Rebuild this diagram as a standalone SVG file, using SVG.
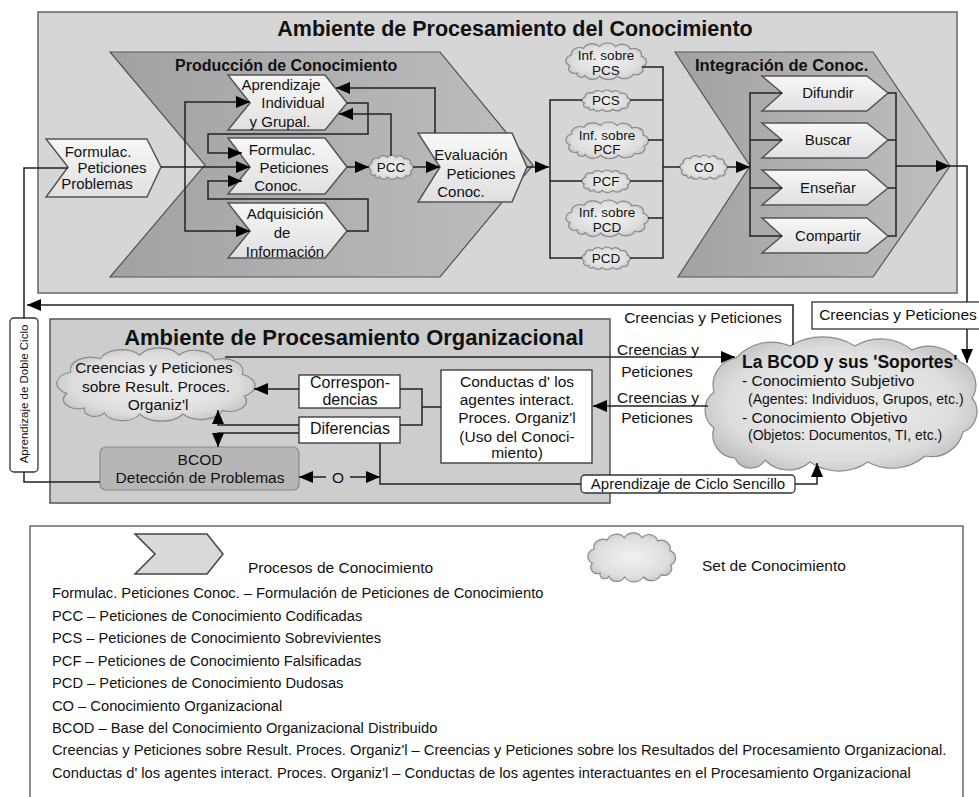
<svg xmlns="http://www.w3.org/2000/svg" width="979" height="797" viewBox="0 0 979 797">
<style>
.t{font-family:"Liberation Sans",Arial,sans-serif;fill:#111}
.m{text-anchor:middle}
.title{font-size:21.5px;font-weight:bold}
.sub{font-size:16px;font-weight:bold}
.ch{font-size:15px;text-anchor:middle}
.cl{font-size:13.5px;text-anchor:middle}
.lo{font-size:15.5px}
.lg{font-size:14.7px}
.conn{fill:none;stroke:#222;stroke-width:1.5}
.arr{marker-end:url(#ah)}
.big{fill:url(#gBig);stroke:#555;stroke-width:1.2}
.small{fill:url(#gSmall);stroke:#555;stroke-width:1.5}
.cloud{fill:url(#gCloud);stroke:#8a8a8a;stroke-width:1.2}
.wbox{fill:#fff;stroke:#333;stroke-width:1.3}
</style>
<defs>
<linearGradient id="gBig" x1="0" y1="0" x2="1" y2="0"><stop offset="0" stop-color="#a2a2a2"/><stop offset="1" stop-color="#bebebe"/></linearGradient>
<linearGradient id="gSmall" x1="0" y1="0" x2="0" y2="1"><stop offset="0" stop-color="#f7f7f7"/><stop offset="1" stop-color="#e0e0e0"/></linearGradient>
<radialGradient id="gCloud" cx="0.5" cy="0.5" r="0.6"><stop offset="0" stop-color="#f2f2f2"/><stop offset="0.7" stop-color="#dddddd"/><stop offset="1" stop-color="#bababa"/></radialGradient>
<path id="cloudP" vector-effect="non-scaling-stroke" d="M14,50 A7.7,7.7 0 0 1 5,38 A9.8,9.8 0 0 1 7,20 A10.2,10.2 0 0 1 22,9 A11.5,11.5 0 0 1 42,6 A11.3,11.3 0 0 1 62,6 A10.1,10.1 0 0 1 80,10 A10.1,10.1 0 0 1 94,22 A9.75,9.75 0 0 1 95,40 A8.5,8.5 0 0 1 84,52 A11.5,11.5 0 0 1 64,55 A13.1,13.1 0 0 1 42,55 A9.75,9.75 0 0 1 24,54 A5.4,5.4 0 0 1 14,50 Z"/>
<marker id="ah" viewBox="0 0 14 12" refX="14" refY="6" markerWidth="14" markerHeight="12" markerUnits="userSpaceOnUse" orient="auto"><path d="M0,0 L14,6 L0,12 Z" fill="#000"/></marker>
</defs>
<rect x="0" y="0" width="979" height="797" fill="#fff"/>

<!-- Containers -->
<g id="env-conocimiento">
<rect x="38" y="12" width="919" height="281" fill="#d6d6d6" stroke="#666" stroke-width="1.5"/>
<text class="t title m" x="515" y="36">Ambiente de Procesamiento del Conocimiento</text>
</g>
<g id="produccion">
<path class="big" d="M110,52 L440,52 L533,165 L440,277 L110,277 L205,165 Z"/>
<text class="t sub" x="175" y="71">Producción de Conocimiento</text>
</g>
<g id="integracion">
<path class="big" d="M675,52 L873,52 L950,166 L873,277 L678,277 L750,166 Z"/>
<text class="t sub" x="695" y="71" style="font-size:16.5px">Integración de Conoc.</text>
</g>
<g id="env-organizacional">
<rect x="50" y="319" width="560" height="184" fill="#cdcdcd" stroke="#555" stroke-width="1.5"/>
<text class="t m" x="354" y="345" style="font-size:22px;font-weight:bold">Ambiente de Procesamiento Organizacional</text>
</g>

<!-- Nodes -->
<g id="n-formulac-problemas">
<path class="small" d="M46,139 L147,139 L161,167 L147,197 L46,197 L68,167 Z"/>
<text class="t ch" x="98" y="157">Formulac.</text>
<text class="t ch" x="112" y="173">Peticiones</text>
<text class="t ch" x="97" y="189">Problemas</text>
</g>
<g id="n-aprendizaje">
<path class="small" d="M228,75 L325,75 L347,103 L325,130 L228,130 L250,103 Z"/>
<text class="t ch" x="281" y="90">Aprendizaje</text>
<text class="t ch" x="293" y="108">Individual</text>
<text class="t ch" x="280" y="127">y Grupal.</text>
</g>
<g id="n-formulac-conoc">
<path class="small" d="M228,138 L325,138 L347,167 L325,194 L228,194 L250,167 Z"/>
<text class="t ch" x="282" y="155">Formulac.</text>
<text class="t ch" x="294" y="173">Peticiones</text>
<text class="t ch" x="278" y="191">Conoc.</text>
</g>
<g id="n-adquisicion">
<path class="small" d="M228,203 L325,203 L347,231 L325,258 L228,258 L250,231 Z"/>
<text class="t ch" x="285" y="219">Adquisición</text>
<text class="t ch" x="282" y="238">de</text>
<text class="t ch" x="285" y="257">Información</text>
</g>
<g id="n-pcc">
<use href="#cloudP" class="cloud" transform="translate(369,155) scale(0.44,0.4)"/>
<text class="t cl" x="391" y="172">PCC</text>
</g>
<g id="n-evaluacion">
<path class="small" d="M418,133 L512,133 L527,167 L512,202 L418,202 L440,167 Z"/>
<text class="t ch" x="471" y="160">Evaluación</text>
<text class="t ch" x="481" y="179">Peticiones</text>
<text class="t ch" x="461" y="197">Conoc.</text>
</g>
<g id="n-inf-pcs">
<use href="#cloudP" class="cloud" transform="translate(566,43) scale(0.8,0.6)"/>
<text class="t cl" x="606" y="60">Inf. sobre</text>
<text class="t cl" x="606" y="75">PCS</text>
</g>
<g id="n-pcs">
<use href="#cloudP" class="cloud" transform="translate(582,90) scale(0.48,0.35)"/>
<text class="t cl" x="606" y="105">PCS</text>
</g>
<g id="n-inf-pcf">
<use href="#cloudP" class="cloud" transform="translate(566,122) scale(0.82,0.6)"/>
<text class="t cl" x="607" y="140">Inf. sobre</text>
<text class="t cl" x="607" y="154">PCF</text>
</g>
<g id="n-pcf">
<use href="#cloudP" class="cloud" transform="translate(582,170) scale(0.48,0.37)"/>
<text class="t cl" x="606" y="186">PCF</text>
</g>
<g id="n-inf-pcd">
<use href="#cloudP" class="cloud" transform="translate(566,200) scale(0.82,0.6)"/>
<text class="t cl" x="607" y="217">Inf. sobre</text>
<text class="t cl" x="607" y="232">PCD</text>
</g>
<g id="n-pcd">
<use href="#cloudP" class="cloud" transform="translate(582,247) scale(0.48,0.37)"/>
<text class="t cl" x="606" y="263">PCD</text>
</g>
<g id="n-co">
<use href="#cloudP" class="cloud" transform="translate(680,155) scale(0.47,0.4)"/>
<text class="t cl" x="704" y="172">CO</text>
</g>
<g id="n-difundir">
<path class="small" d="M762,76 H867 L888,93 L867,111 H762 L782,93 Z"/>
<text class="t ch" x="828" y="98">Difundir</text>
</g>
<g id="n-buscar">
<path class="small" d="M762,123 H867 L888,140 L867,158 H762 L782,140 Z"/>
<text class="t ch" x="828" y="145">Buscar</text>
</g>
<g id="n-ensenar">
<path class="small" d="M762,170 H867 L888,188 L867,205 H762 L782,188 Z"/>
<text class="t ch" x="828" y="193">Enseñar</text>
</g>
<g id="n-compartir">
<path class="small" d="M762,218 H867 L888,236 L867,253 H762 L782,236 Z"/>
<text class="t ch" x="828" y="241">Compartir</text>
</g>

<g id="n-doble-ciclo">
<rect x="10" y="318" width="28" height="154" rx="4" class="wbox"/>
<text class="t m" transform="translate(28,394) rotate(-90)" style="font-size:11.5px">Aprendizaje de Doble Ciclo</text>
</g>
<g id="n-creencias-result">
<use href="#cloudP" class="cloud" transform="translate(57,348) scale(1.97,1.2)"/>
<text class="t lo m" x="154" y="373">Creencias y Peticiones</text>
<text class="t lo m" x="156" y="392">sobre Result. Proces.</text>
<text class="t lo m" x="158" y="410">Organiz'l</text>
</g>
<g id="n-correspondencias">
<rect x="299" y="375" width="101" height="33" class="wbox"/>
<text class="t m" x="350" y="388" style="font-size:16px">Correspon-</text>
<text class="t m" x="350" y="405" style="font-size:16px">dencias</text>
</g>
<g id="n-diferencias">
<rect x="299" y="417" width="101" height="26" class="wbox"/>
<text class="t m" x="350" y="434" style="font-size:16px">Diferencias</text>
</g>
<g id="n-conductas">
<rect x="441" y="370" width="151" height="93" class="wbox"/>
<text class="t lo m" x="517" y="387">Conductas d' los</text>
<text class="t lo m" x="517" y="405">agentes interact.</text>
<text class="t lo m" x="517" y="423">Proces. Organiz'l</text>
<text class="t lo m" x="517" y="442">(Uso del Conoci-</text>
<text class="t lo m" x="517" y="458">miento)</text>
</g>
<g id="n-bcod-deteccion">
<rect x="100" y="447" width="199" height="43" rx="6" fill="#b6b6b6" stroke="#8a8a8a" stroke-width="1.2"/>
<text class="t lo m" x="200" y="465">BCOD</text>
<text class="t lo m" x="200" y="483">Detección de Problemas</text>
</g>
<g id="n-bcod-soportes">
<path class="cloud" d="M735,458 A23,23 0 0 1 714,428 A22.5,22.5 0 0 1 714,392 A27.3,27.3 0 0 1 736,358 A47,47 0 0 1 790,346 A63,63 0 0 1 855,346 A49.8,49.8 0 0 1 912,350 A38.5,38.5 0 0 1 960,362 A24.5,24.5 0 0 1 972,398 A21.7,21.7 0 0 1 963,432 A32.5,32.5 0 0 1 925,456 A50,50 0 0 1 868,462 A51,51 0 0 1 810,462 A32.6,32.6 0 0 1 765,460 A17,17 0 0 1 735,458 Z"/>
<text class="t" x="742" y="368" style="font-size:17.5px;font-weight:bold">La BCOD y sus 'Soportes'</text>
<text class="t lo" x="742" y="386">- Conocimiento Subjetivo</text>
<text class="t" x="748" y="404" style="font-size:14px">(Agentes: Individuos, Grupos, etc.)</text>
<text class="t lo" x="742" y="423">- Conocimiento Objetivo</text>
<text class="t" x="748" y="440" style="font-size:14px">(Objetos: Documentos, TI, etc.)</text>
</g>
<g id="n-creencias-box">
<rect x="812" y="302" width="172" height="27" class="wbox"/>
<text class="t lo m" x="898" y="320">Creencias y Peticiones</text>
</g>
<g id="n-ciclo-sencillo">
<rect x="581" y="475" width="214" height="18" rx="4" class="wbox"/>
<text class="t m" x="688" y="489" style="font-size:15px">Aprendizaje de Ciclo Sencillo</text>
</g>

<!-- Connectors -->
<g id="connectors">
<path class="conn" d="M100,482 H24 V472 M24,318 V168 H68"/>
<path class="conn arr" d="M161,167 H250"/>
<path class="conn arr" d="M185,167 V102 H250"/>
<path class="conn arr" d="M185,167 V231 H250"/>
<path class="conn arr" d="M347,103 H368 V134 H208 V153 H242"/>
<path class="conn arr" d="M347,231 H368 V199 H208 V181 H242"/>
<path class="conn arr" d="M435,133 V88 H336"/>
<path class="conn arr" d="M391,156 V114 H339"/>
<path class="conn arr" d="M347,167 H369"/>
<path class="conn arr" d="M413,167 H440"/>
<path class="conn arr" d="M527,167 H549"/>
<path class="conn" d="M582,100 H550 V258 H582 M550,181 H582"/>
<path class="conn" d="M642,67 H663 V258 H630 M630,100 H663 M648,140 H663 M630,181 H663 M648,218 H663 M663,167 H680"/>
<path class="conn arr" d="M727,167 H750"/>
<path class="conn" d="M782,93 H750 V236 H782 M750,140 H782 M750,188 H782"/>
<path class="conn" d="M888,93 H896 V236 H888 M888,140 H896 M888,188 H896"/>
<path class="conn arr" d="M896,166 H950"/>
<path class="conn" d="M950,166 H967 V302"/>
<path class="conn arr" d="M967,329 V363"/>
<path class="conn arr" d="M793,345 V305 H27"/>
<path class="conn arr" d="M225,357 H735"/>
<path class="conn arr" d="M708,406 H593"/>
<path class="conn" d="M441,407 H422 M400,389 H422 V425 H400"/>
<path class="conn arr" d="M299,389 H254"/>
<path class="conn arr" d="M299,425 H218 V410"/>
<path class="conn arr" d="M299,433 H218 V447"/>
<path class="conn" d="M380,443 V484 H581"/>
<path class="conn arr" d="M795,484 H817 V463"/>
<path class="conn arr" d="M326,477 H299"/>
<path class="conn arr" d="M350,477 H380"/>
<text class="t lo m" x="338" y="483">O</text>
<text class="t lo m" x="703" y="323">Creencias y Peticiones</text>
<text class="t lo m" x="658" y="355">Creencias y</text>
<text class="t lo m" x="657" y="377">Peticiones</text>
<text class="t lo m" x="658" y="403">Creencias y</text>
<text class="t lo m" x="657" y="423">Peticiones</text>
</g>

<!-- Legend -->
<g id="legend">
<rect x="30" y="526" width="933" height="280" fill="#fff" stroke="#555" stroke-width="1.3"/>
<path d="M135,534 H207 L223,554 L207,574 H135 L155,554 Z" fill="#d9d9d9" stroke="#444" stroke-width="1.5"/>
<text class="t" x="248" y="573" style="font-size:15.5px">Procesos de Conocimiento</text>
<use href="#cloudP" class="cloud" transform="translate(588,533) scale(0.87,0.8)"/>
<text class="t" x="702" y="571" style="font-size:15.5px">Set de Conocimiento</text>
<text class="t lg" x="52" y="598">Formulac. Peticiones Conoc. – Formulación de Peticiones de Conocimiento</text>
<text class="t lg" x="52" y="621">PCC – Peticiones de Conocimiento Codificadas</text>
<text class="t lg" x="52" y="643">PCS – Peticiones de Conocimiento Sobrevivientes</text>
<text class="t lg" x="52" y="666">PCF – Peticiones de Conocimiento Falsificadas</text>
<text class="t lg" x="52" y="688">PCD – Peticiones de Conocimiento Dudosas</text>
<text class="t lg" x="52" y="711">CO – Conocimiento Organizacional</text>
<text class="t lg" x="52" y="733">BCOD – Base del Conocimiento Organizacional Distribuido</text>
<text class="t lg" x="52" y="755">Creencias y Peticiones sobre Result. Proces. Organiz'l – Creencias y Peticiones sobre los Resultados del Procesamiento Organizacional.</text>
<text class="t lg" x="52" y="778">Conductas d' los agentes interact. Proces. Organiz'l – Conductas de los agentes interactuantes en el Procesamiento Organizacional</text>
</g>
</svg>
